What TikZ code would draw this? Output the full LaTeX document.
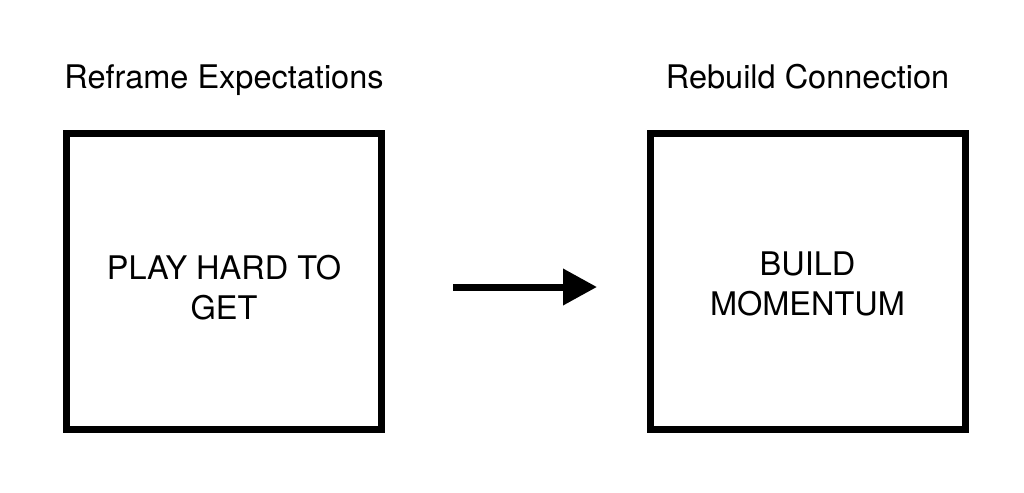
\documentclass[tikz,border=0pt]{standalone}
\usepackage{fontspec}
\setmainfont{TeX Gyre Heros}
\usetikzlibrary{arrows.meta}
\begin{document}
\begin{tikzpicture}[x=1pt,y=-1pt,
  panel/.style={draw=black, line width=7pt, minimum width=315pt, minimum height=296pt, inner sep=0pt},
  title/.style={font=\fontsize{32.5}{38}\selectfont, anchor=base, inner sep=0pt},
  inner/.style={font=\fontsize{32.5}{40}\selectfont, align=center, inner sep=0pt},
  link/.style={line width=7pt, -{Triangle[length=34pt,width=35pt]}}]
\useasboundingbox[fill=white] (0,0) rectangle (1024,492);
\node[panel] (left) at (224,281.5) {};
\node[panel] (right) at (807.5,281.5) {};
\node[title] (lt) at (224,89) {Reframe Expectations};
\node[title] (rt) at (807.5,89) {Rebuild Connection};
\node[inner] (lx) at (224,288) {PLAY HARD TO\\GET};
\node[inner] (rx) at (807.5,284) {BUILD\\MOMENTUM};
\coordinate (a) at (453,287);
\coordinate (b) at (597,287);
\draw[link] (a) -- (b);
\end{tikzpicture}
\end{document}
